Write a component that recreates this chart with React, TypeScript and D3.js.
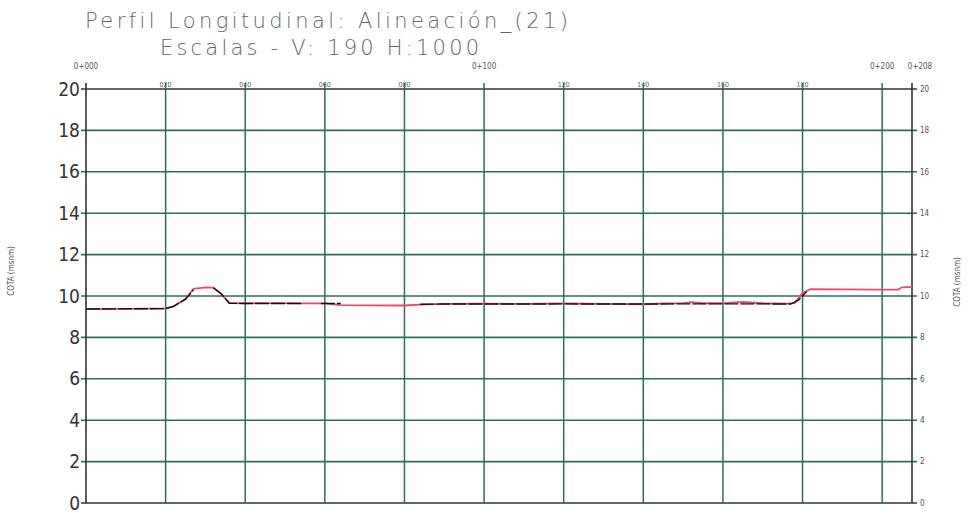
import React from 'react';
import * as d3 from 'd3';

// stations (m) and ground elevations (red)
const terrStations = [0, 10, 20, 22, 25, 27, 30, 32, 34, 36, 40, 50, 54, 60, 64, 70, 80, 84, 90, 100, 110, 120, 130, 140, 145, 150, 152, 155, 160, 165, 170, 176, 178, 180, 182, 190, 200, 204, 205, 207.5];
const terrElev = [9.38, 9.38, 9.4, 9.5, 9.85, 10.35, 10.42, 10.4, 10.1, 9.66, 9.65, 9.66, 9.64, 9.64, 9.56, 9.55, 9.54, 9.58, 9.62, 9.63, 9.62, 9.64, 9.62, 9.6, 9.64, 9.66, 9.7, 9.65, 9.66, 9.72, 9.65, 9.63, 9.66, 10.15, 10.33, 10.32, 10.31, 10.31, 10.42, 10.44];

// design profile (black), NaN = hidden
const rasStations = [0, 20, 22, 25, 27, 28, 31, 32, 34, 36, 40, 50, 54, 55, 59, 64, 65, 84, 90, 100, 110, 120, 130, 140, 150, 160, 170, 177, 179, 181, 182];
const rasElev = [9.37, 9.39, 9.5, 9.85, 10.3, NaN, NaN, 10.4, 10.1, 9.65, 9.64, 9.64, 9.64, NaN, 9.64, 9.64, NaN, 9.6, 9.61, 9.61, 9.61, 9.62, 9.61, 9.61, 9.62, 9.62, 9.62, 9.61, 9.8, 10.2, NaN];

const yTicks = [0, 2, 4, 6, 8, 10, 12, 14, 16, 18, 20];
const majorStations = [0, 100, 200, 207.5];
const majorLabels = ['0+000', '0+100', '0+200', '0+208'];
const minorStations = [20, 40, 60, 80, 120, 140, 160, 180];
const minorLabels = ['020', '040', '060', '080', '120', '140', '160', '180'];

const W = 969;
const H = 513;
const m = { left: 86, right: 912, top: 89, bottom: 503 };
const font = "'DejaVu Sans Condensed', 'DejaVu Sans', sans-serif";

const App = () => {
  const x = d3.scaleLinear().domain([0, 207.5]).range([m.left, m.right]);
  const y = d3.scaleLinear().domain([0, 20]).range([m.bottom, m.top]);

  const terr = d3.line<number>()
    .x((_, i) => x(terrStations[i]))
    .y(d => y(d))(terrElev) || '';

  const ras = d3.line<number>()
    .defined(d => !isNaN(d))
    .x((_, i) => x(rasStations[i]))
    .y(d => y(d))(rasElev) || '';

  const gridColor = '#2c6e5c';
  const gridStations = [...minorStations, 100, 200];

  return (
    <svg width={W} height={H} style={{ position: 'absolute', left: 0, top: 0, background: '#fff' }}>
      {/* title */}
      <text x={85} y={28} fontFamily="DejaVu Sans" fontSize={21} fill="#666" letterSpacing={3.4} fontWeight={300}>
        Perfil Longitudinal: Alineación_(21)
      </text>
      <text x={160} y={55} fontFamily="DejaVu Sans" fontSize={21} fill="#666" letterSpacing={3.2} fontWeight={300}>
        Escalas - V: 190 H:1000
      </text>

      {/* horizontal grid */}
      {yTicks.map(t => (
        <line key={'h' + t} x1={m.left - 5} x2={m.right + 5} y1={y(t)} y2={y(t)}
          stroke={t === 0 || t === 20 ? '#333' : gridColor} strokeWidth={1.6} />
      ))}
      {/* vertical grid */}
      {gridStations.map(s => (
        <line key={'v' + s} x1={x(s)} x2={x(s)} y1={m.top - 6} y2={m.bottom}
          stroke={gridColor} strokeWidth={1.5} />
      ))}
      {/* frame */}
      <line x1={m.left} x2={m.left} y1={m.top - 6} y2={m.bottom} stroke="#333" strokeWidth={1.6} />
      <line x1={m.right} x2={m.right} y1={m.top - 6} y2={m.bottom} stroke="#333" strokeWidth={1.6} />

      {/* left tick labels */}
      {yTicks.map(t => (
        <text key={'l' + t} x={m.left - 6} y={y(t)} dy="0.35em" textAnchor="end"
          fontFamily={font} fontSize={19} fill="#333">{t}</text>
      ))}
      {/* right tick labels */}
      {yTicks.map(t => (
        <text key={'r' + t} x={m.right + 8} y={y(t)} dy="0.35em"
          fontFamily={font} fontSize={8} fill="#555">{t}</text>
      ))}

      {/* station labels */}
      {majorStations.map((s, i) => (
        <text key={'M' + s} x={x(s) + (i === 3 ? 8 : 0)} y={69} textAnchor="middle"
          fontFamily={font} fontSize={8} fill="#555">{majorLabels[i]}</text>
      ))}
      {minorStations.map((s, i) => (
        <text key={'m' + s} x={x(s)} y={87} textAnchor="middle"
          fontFamily={font} fontSize={7} fill="#666">{minorLabels[i]}</text>
      ))}

      {/* axis titles */}
      <text transform={`translate(14,${(m.top + m.bottom) / 2 - 25}) rotate(-90)`} textAnchor="middle"
        fontFamily={font} fontSize={8} fill="#555">COTA (msnm)</text>
      <text transform={`translate(960,${(m.top + m.bottom) / 2 - 14}) rotate(-90)`} textAnchor="middle"
        fontFamily={font} fontSize={8} fill="#555">COTA (msnm)</text>

      {/* profiles */}
      <path d={terr} fill="none" stroke="#e0506a" strokeWidth={1.8} />
      <path d={ras} fill="none" stroke="#111" strokeWidth={1.4} strokeDasharray="14 2" />
    </svg>
  );
};

export default App;
